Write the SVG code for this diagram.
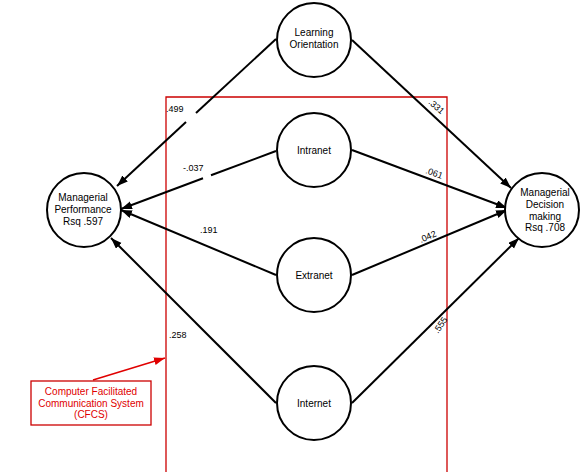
<svg xmlns="http://www.w3.org/2000/svg" width="583" height="472" viewBox="0 0 583 472">
<defs>
<style>
.node{fill:#fff;stroke:#000;stroke-width:2}
.nt{font-family:"Liberation Sans",Arial,sans-serif;font-size:10px;fill:#000;text-anchor:middle}
.edge{stroke:#000;stroke-width:2;fill:none}
.lbl{font-family:"Liberation Sans",Arial,sans-serif;font-size:9px;fill:#000}
.red{stroke:#cc0000;stroke-width:1.3;fill:none}
.rt{font-family:"Liberation Sans",Arial,sans-serif;font-size:10px;fill:#e00000;text-anchor:middle}
</style>
<marker id="ah" markerUnits="userSpaceOnUse" markerWidth="12" markerHeight="9" refX="11" refY="4" orient="auto">
<path d="M0,0 L11,4 L0,8 z" fill="#000"/>
</marker>
<marker id="rh" markerUnits="userSpaceOnUse" markerWidth="12" markerHeight="9" refX="11" refY="4" orient="auto">
<path d="M0,0 L11,4 L0,8 z" fill="#e00000"/>
</marker>
</defs>
<rect width="583" height="472" fill="#fff"/>
<g id="cfcs-frame">
<path class="red" d="M166,472 V97 H447 V472"/>
</g>
<g id="connectors">
<line class="edge" x1="276" y1="39" x2="196" y2="113"/>
<line class="edge" x1="186" y1="122" x2="117" y2="186" marker-end="url(#ah)"/>
<line class="edge" x1="276" y1="151" x2="211" y2="175.3"/>
<line class="edge" x1="203" y1="178.3" x2="121" y2="209" marker-end="url(#ah)"/>
<line class="edge" x1="276" y1="275" x2="121" y2="210" marker-end="url(#ah)"/>
<line class="edge" x1="276" y1="403" x2="111" y2="238" marker-end="url(#ah)"/>
<line class="edge" x1="352" y1="40" x2="511" y2="188" marker-end="url(#ah)"/>
<line class="edge" x1="352" y1="150" x2="507" y2="208" marker-end="url(#ah)"/>
<line class="edge" x1="352" y1="275" x2="507" y2="210" marker-end="url(#ah)"/>
<line class="edge" x1="352" y1="403" x2="519" y2="238" marker-end="url(#ah)"/>
<line x1="93" y1="380" x2="165" y2="358" stroke="#e00000" stroke-width="1.5" marker-end="url(#rh)"/>
<text class="lbl" x="166" y="112">.499</text>
<text class="lbl" x="183" y="171" font-size="8">-.037</text>
<text class="lbl" x="200" y="233" font-size="8">.191</text>
<text class="lbl" x="169" y="338">.258</text>
<text class="lbl" transform="translate(428,103) rotate(42)">.331</text>
<text class="lbl" transform="translate(425,173) rotate(20)">.061</text>
<text class="lbl" transform="translate(421,243) rotate(-24)">.042</text>
<text class="lbl" transform="translate(438,334) rotate(-56)">.555</text>
</g>
<g id="learning-orientation">
<circle class="node" cx="314" cy="40" r="37"/>
<text class="nt" x="314" y="36">Learning</text>
<text class="nt" x="314" y="48">Orientation</text>
</g>
<g id="intranet">
<circle class="node" cx="314" cy="150" r="37"/>
<text class="nt" x="314" y="154">Intranet</text>
</g>
<g id="extranet">
<circle class="node" cx="314" cy="275" r="37"/>
<text class="nt" x="314" y="279">Extranet</text>
</g>
<g id="internet">
<circle class="node" cx="314" cy="403" r="37"/>
<text class="nt" x="314" y="407">Internet</text>
</g>
<g id="managerial-performance">
<circle class="node" cx="84" cy="210" r="37"/>
<text class="nt" x="83" y="201">Managerial</text>
<text class="nt" x="83" y="213">Performance</text>
<text class="nt" x="83" y="225">Rsq .597</text>
</g>
<g id="managerial-decision-making">
<circle class="node" cx="542" cy="210" r="37"/>
<text class="nt" x="545" y="195.5">Managerial</text>
<text class="nt" x="545" y="207.5">Decision</text>
<text class="nt" x="545" y="219.5">making</text>
<text class="nt" x="545" y="231">Rsq .708</text>
</g>
<g id="cfcs-label">
<rect x="31" y="381" width="120" height="44" fill="#fff" stroke="#cc0000" stroke-width="1.3"/>
<text class="rt" x="91" y="394.5">Computer Facilitated</text>
<text class="rt" x="91" y="406.5">Communication System</text>
<text class="rt" x="91" y="418">(CFCS)</text>
</g>
</svg>
